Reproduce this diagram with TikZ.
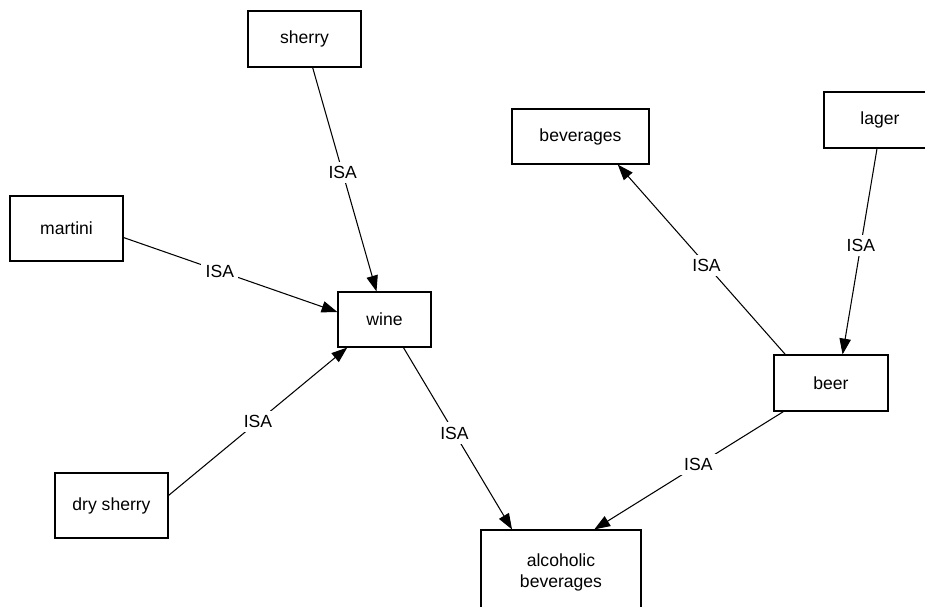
\documentclass[tikz,border=0pt]{standalone}
\usepackage{fontspec}
\setmainfont{Liberation Sans}
\usetikzlibrary{arrows.meta}

\begin{document}
\begin{tikzpicture}[
	%	style def
	x=0.02cm, y=-0.02cm,
	concept/.style={draw, line width=0.65pt, inner sep=0pt, align=center, font=\fontsize{10}{12}\selectfont},
	boxsize/.style 2 args={minimum width=#1*0.02cm, minimum height=#2*0.02cm},
	isa/.style={line width=0.6pt, -{Triangle[length=9pt,width=6.5pt]}},
	isa label/.style={fill=white, inner sep=2.5pt, font=\fontsize{10}{12}\selectfont}
	]
	\useasboundingbox (0,0) rectangle (925,607);

	% concepts
	\node[concept, boxsize={113}{56}] (sherry) at (304.5,39) {sherry};
	\node[concept, boxsize={137}{55}] (beverages) at (580.5,136.5) {beverages};
	\node[concept, boxsize={112}{56}] (lager) at (880,120) {lager};
	\node[concept, boxsize={113}{65}] (martini) at (66.5,228.5) {martini};
	\node[concept, boxsize={93}{55}] (wine) at (384.5,319.5) {wine};
	\node[concept, boxsize={114}{56}] (beer) at (831,383) {beer};
	\node[concept, boxsize={113}{65}] (drysherry) at (111.5,505.5) {dry sherry};
	\node[concept, boxsize={160}{84}] (alcoholic) at (561,572) {alcoholic\\beverages};

	% ISA links
	\draw[isa] (sherry) -- node[isa label, pos=0.47] {ISA} (wine);
	\draw[isa] (martini.-9) -- node[isa label, pos=0.45] {ISA} (wine.171);
	\draw[isa] (drysherry.10.5) -- node[isa label] {ISA} (wine.217);
	\draw[isa] (wine.-56) -- node[isa label, pos=0.47] {ISA} (alcoholic.139.4);
	\draw[isa] (beer.148.7) -- node[isa label, pos=0.47] {ISA} (beverages.-37);
	\draw[isa] (lager.-96) -- node[isa label, pos=0.47] {ISA} (beer.68.5);
	\draw[isa] (beer.211.3) -- node[isa label, pos=0.45] {ISA} (alcoholic.52.7);
\end{tikzpicture}
\end{document}
